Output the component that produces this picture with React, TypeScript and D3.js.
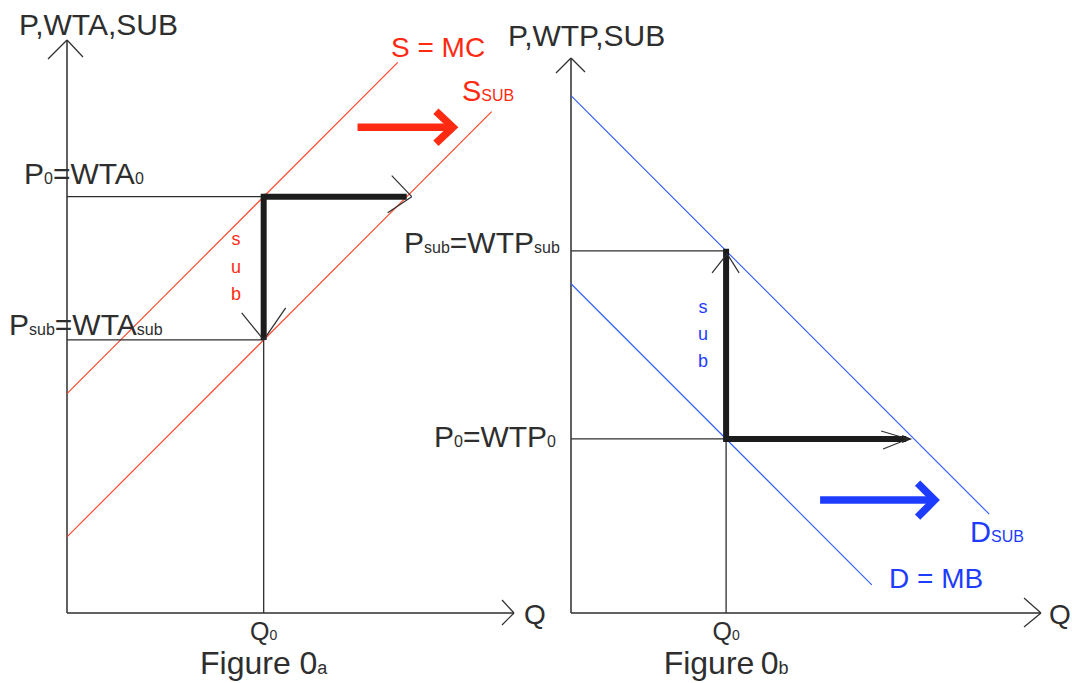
import React from 'react';
import * as d3 from 'd3';

// ---------- Figure 0a: producer subsidy (supply side) ----------
const qMaxA = 100;
const pMaxA = 128;
const q0A = 44;
const p0A = 93; // P0 = WTA0
const pSubA = 61; // Psub = WTAsub
const supplyA = [
  { q: 0, p: 49 },
  { q: 74, p: 123 },
]; // S = MC
const supplySubA = [
  { q: 0, p: 17 },
  { q: 95, p: 112 },
]; // S_SUB
const qReachA = 76; // P0 meets S_SUB
const shiftA = { from: 65, to: 87, p: 108.5 };

// ---------- Figure 0b: consumer subsidy (demand side) ----------
const qMaxB = 100;
const pMaxB = 118;
const q0B = 33;
const p0B = 37; // P0 = WTP0
const pSubB = 77; // Psub = WTPsub
const demandB = [
  { q: 0, p: 70 },
  { q: 64, p: 6 },
]; // D = MB
const demandSubB = [
  { q: 0, p: 110 },
  { q: 89, p: 21 },
]; // D_SUB
const qReachB = 73; // P0 meets D_SUB
const shiftB = { from: 53, to: 78, p: 24 };

const FONT = '"Liberation Sans", Arial, Helvetica, sans-serif';
const INK = '#2e2e2e';
const THICK = '#1c1c1c';
const RED = '#ff2a12';
const RED_LINE = '#ff3d24';
const BLUE = '#1e3cff';
const BLUE_LINE = '#2a58ff';
const LABEL = 30;
const SUB = 16;

type Pt = { q: number; p: number };

function OpenHead({ x, y, arms, color = INK, width = 1.2 }: { x: number; y: number; arms: [number, number][]; color?: string; width?: number }) {
  return (
    <g stroke={color} strokeWidth={width} fill="none">
      {arms.map(([dx, dy], i) => (
        <line key={i} x1={x + dx} y1={y + dy} x2={x} y2={y} />
      ))}
    </g>
  );
}

function VerticalWord({ x, y0, step, word, color }: { x: number; y0: number; step: number; word: string; color: string }) {
  return (
    <g fill={color} fontFamily={FONT} fontSize={18} textAnchor="middle">
      {word.split('').map((ch, i) => (
        <text key={i} x={x} y={y0 + i * step}>
          {ch}
        </text>
      ))}
    </g>
  );
}

function PanelA() {
  const x = d3.scaleLinear().domain([0, qMaxA]).range([67, 514]);
  const y = d3.scaleLinear().domain([0, pMaxA]).range([613, 40]);
  const line = d3
    .line<Pt>()
    .x((d) => x(d.q))
    .y((d) => y(d.p));
  const X0 = x(0);
  const Y0 = y(0);
  const xq = x(q0A);
  const yp0 = y(p0A);
  const yps = y(pSubA);
  const sy = y(shiftA.p);
  return (
    <g>
      {/* axes */}
      <g stroke={INK} strokeWidth={1.5} fill="none">
        <line x1={X0} y1={Y0} x2={X0} y2={y(pMaxA)} />
        <line x1={X0} y1={Y0} x2={x(qMaxA)} y2={Y0} />
      </g>
      <OpenHead x={X0} y={y(pMaxA)} arms={[[-19, 19], [16, 17]]} />
      <OpenHead x={x(qMaxA)} y={Y0} arms={[[-12, -13], [-12, 12]]} />

      {/* supply curves */}
      <path d={line(supplyA) ?? ''} stroke={RED_LINE} strokeWidth={1.1} fill="none" />
      <path d={line(supplySubA) ?? ''} stroke={RED_LINE} strokeWidth={1.1} fill="none" />

      {/* guide lines */}
      <g stroke={INK} strokeWidth={1.3}>
        <line x1={X0} y1={yp0} x2={xq} y2={yp0} />
        <line x1={X0} y1={yps} x2={xq} y2={yps} />
        <line x1={xq} y1={yps} x2={xq} y2={Y0} />
      </g>

      {/* subsidy and quantity arrows */}
      <g stroke={THICK} strokeWidth={6} fill="none">
        <line x1={xq} y1={yp0 - 3} x2={xq} y2={yps} />
        <line x1={xq} y1={yp0} x2={x(qReachA)} y2={yp0} />
      </g>
      <OpenHead x={xq} y={yps} arms={[[-22, -27], [22, -32]]} />
      <OpenHead x={x(qReachA) + 5} y={yp0} arms={[[-20, -21], [-24, 16]]} />

      {/* shift arrow */}
      <g stroke={RED} fill="none" strokeWidth={7.5} strokeLinejoin="miter">
        <line x1={x(shiftA.from)} y1={sy} x2={x(shiftA.to) - 8} y2={sy} />
        <polyline points={`${x(shiftA.to) - 20},${sy - 16} ${x(shiftA.to) - 3},${sy} ${x(shiftA.to) - 20},${sy + 16}`} />
      </g>

      {/* labels */}
      <g fontFamily={FONT} fill={INK}>
        <text x={19} y={35} fontSize={LABEL}>P,WTA,SUB</text>
        <text x={24} y={yp0 - 13} fontSize={LABEL}>
          P<tspan fontSize={SUB}>0</tspan>=WTA<tspan fontSize={SUB}>0</tspan>
        </text>
        <text x={9} y={yps - 5} fontSize={LABEL}>
          P<tspan fontSize={SUB}>sub</tspan>=WTA<tspan fontSize={SUB}>sub</tspan>
        </text>
        <text x={x(qMaxA) + 10} y={Y0 + 11} fontSize={28}>Q</text>
        <text x={xq} y={640} fontSize={25} textAnchor="middle">
          Q<tspan fontSize={14}>0</tspan>
        </text>
        <text x={xq} y={674} fontSize={32} textAnchor="middle">
          Figure 0<tspan fontSize={18}>a</tspan>
        </text>
      </g>
      <g fontFamily={FONT} fill={RED}>
        <text x={391} y={57} fontSize={28}>S = MC</text>
        <text x={462} y={101} fontSize={29}>
          S<tspan fontSize={SUB}>SUB</tspan>
        </text>
      </g>
      <VerticalWord x={236} y0={245} step={27.5} word="sub" color={RED} />
    </g>
  );
}

function PanelB() {
  const x = d3.scaleLinear().domain([0, qMaxB]).range([571, 1041]);
  const y = d3.scaleLinear().domain([0, pMaxB]).range([613, 58]);
  const line = d3
    .line<Pt>()
    .x((d) => x(d.q))
    .y((d) => y(d.p));
  const X0 = x(0);
  const Y0 = y(0);
  const xq = x(q0B);
  const yp0 = y(p0B);
  const yps = y(pSubB);
  const sy = y(shiftB.p);
  return (
    <g>
      {/* axes */}
      <g stroke={INK} strokeWidth={1.5} fill="none">
        <line x1={X0} y1={Y0} x2={X0} y2={y(pMaxB)} />
        <line x1={X0} y1={Y0} x2={x(qMaxB)} y2={Y0} />
      </g>
      <OpenHead x={X0} y={y(pMaxB)} arms={[[-15, 15], [14, 14]]} />
      <OpenHead x={x(qMaxB)} y={Y0} arms={[[-17, -15], [-17, 14]]} />

      {/* demand curves */}
      <path d={line(demandB) ?? ''} stroke={BLUE_LINE} strokeWidth={1.1} fill="none" />
      <path d={line(demandSubB) ?? ''} stroke={BLUE_LINE} strokeWidth={1.1} fill="none" />

      {/* guide lines */}
      <g stroke={INK} strokeWidth={1.3}>
        <line x1={X0} y1={yp0} x2={xq} y2={yp0} />
        <line x1={X0} y1={yps} x2={xq} y2={yps} />
        <line x1={xq} y1={yp0} x2={xq} y2={Y0} />
      </g>

      {/* subsidy and quantity arrows */}
      <g stroke={THICK} strokeWidth={6} fill="none">
        <line x1={xq} y1={yp0 + 3} x2={xq} y2={yps - 2} />
        <line x1={xq} y1={yp0} x2={x(qReachB) - 8} y2={yp0} />
      </g>
      <path
        d={`M${x(qReachB) - 12},${yp0 - 4} L${x(qReachB) - 2},${yp0} L${x(qReachB) - 12},${yp0 + 4} Z`}
        fill={THICK}
      />
      <OpenHead x={xq + 1} y={yps + 3} arms={[[-15, 19], [12, 19]]} />
      <OpenHead x={x(qReachB) - 6} y={yp0} arms={[[-27, -8], [-25, 10]]} />

      {/* shift arrow */}
      <g stroke={BLUE} fill="none" strokeWidth={7.5} strokeLinejoin="miter">
        <line x1={x(shiftB.from)} y1={sy} x2={x(shiftB.to) - 8} y2={sy} />
        <polyline points={`${x(shiftB.to) - 20},${sy - 17} ${x(shiftB.to) - 3},${sy} ${x(shiftB.to) - 20},${sy + 17}`} />
      </g>

      {/* labels */}
      <g fontFamily={FONT} fill={INK}>
        <text x={508} y={46} fontSize={LABEL}>P,WTP,SUB</text>
        <text x={404} y={yps + 2} fontSize={LABEL}>
          P<tspan fontSize={SUB}>sub</tspan>=WTP<tspan fontSize={SUB}>sub</tspan>
        </text>
        <text x={434} y={yp0 + 8} fontSize={LABEL}>
          P<tspan fontSize={SUB}>0</tspan>=WTP<tspan fontSize={SUB}>0</tspan>
        </text>
        <text x={x(qMaxB) + 8} y={Y0 + 11} fontSize={28}>Q</text>
        <text x={xq} y={640} fontSize={25} textAnchor="middle">
          Q<tspan fontSize={14}>0</tspan>
        </text>
        <text x={xq} y={674} fontSize={32} textAnchor="middle">
          Figure{'\u2009'}0<tspan fontSize={18}>b</tspan>
        </text>
      </g>
      <g fontFamily={FONT} fill={BLUE}>
        <text x={889} y={588} fontSize={28}>D = MB</text>
        <text x={970} y={542} fontSize={29}>
          D<tspan fontSize={SUB}>SUB</tspan>
        </text>
      </g>
      <VerticalWord x={703} y0={313} step={27} word="sub" color={BLUE} />
    </g>
  );
}

export default function App() {
  return (
    <svg
      width={1072}
      height={683}
      viewBox="0 0 1072 683"
      style={{ position: 'absolute', left: 0, top: 0, background: '#fff' }}
    >
      <rect width={1072} height={683} fill="#fff" />
      <PanelA />
      <PanelB />
    </svg>
  );
}
